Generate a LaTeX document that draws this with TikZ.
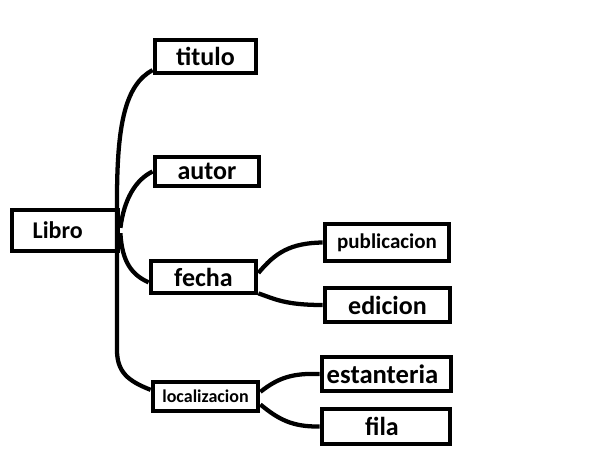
\documentclass[tikz,border=0pt]{standalone}
\usepackage{fontspec}
\setmainfont{Carlito}
\tikzset{every picture/.style={line width=0.75pt}}
\tikzset{
  box/.style={draw, rectangle, line width=3.6pt, inner sep=0pt,
    font=\bfseries\fontsize{19.5}{20}\selectfont},
  branch/.style={line width=3.2pt},
}
\begin{document}
\begin{tikzpicture}[x=0.75pt,y=0.75pt,yscale=-1,xscale=1]
\useasboundingbox (0,0) rectangle (604,468);

% Boxes
\node[box, minimum width=79.5pt, minimum height=30.75pt, font=\bfseries\fontsize{18}{20}\selectfont] (libro) at (65,230.5) {Libro\hspace*{11pt}};
\node[box, minimum width=75.75pt, minimum height=24.75pt] (titulo) at (205.5,56.5) {titulo};
\node[box, minimum width=78pt, minimum height=21.75pt] (autor) at (207,171.5) {autor};
\node[box, minimum width=78.75pt, minimum height=24pt] (fecha) at (203.5,277) {fecha};
\node[box, minimum width=93pt, minimum height=27.75pt, font=\bfseries\fontsize{15.75}{18}\selectfont] (publicacion) at (387,242.5) {publicacion};
\node[box, minimum width=93.75pt, minimum height=25.5pt] (edicion) at (387.5,305) {edicion};
\node[box, minimum width=78.75pt, minimum height=21.75pt, font=\bfseries\fontsize{13.5}{16}\selectfont] (localizacion) at (205.5,396.5) {localizacion};
\node[box, minimum width=96.75pt, minimum height=25.5pt, font=\bfseries\fontsize{20}{22}\selectfont] (estanteria) at (386.5,374) {estanteria\hspace*{6pt}};
\node[box, minimum width=96pt, minimum height=26.25pt] (fila) at (386,426.5) {fila\hspace*{6pt}};

% Branches of Libro (yshift runs downwards here, as yscale=-1)
\draw[branch] ([yshift=-4pt]titulo.south west) .. controls (125,85) and (117,125) .. (117,200) -- (117,350) .. controls (117,372) and (128,381) .. ([yshift=-5pt]localizacion.west);
\draw[branch] ([yshift=-2pt]libro.east) .. controls (124,200) and (135,180) .. (autor.west);
\draw[branch] ([yshift=2pt]libro.east) .. controls (122,262) and (132,275) .. ([yshift=4pt]fecha.west);

% Branches of fecha
\draw[branch] ([yshift=-3pt]fecha.east) .. controls (275,253) and (290,243) .. (publicacion.west);
\draw[branch] ([yshift=-1.5pt]fecha.south east) .. controls (275,299) and (285,305) .. (edicion.west);

% Branches of localizacion
\draw[branch] ([yshift=-3.5pt]localizacion.east) .. controls (278,378) and (292,373) .. (estanteria.west);
\draw[branch] ([yshift=6pt]localizacion.east) .. controls (278,419) and (292,427) .. (fila.west);

\end{tikzpicture}
\end{document}
